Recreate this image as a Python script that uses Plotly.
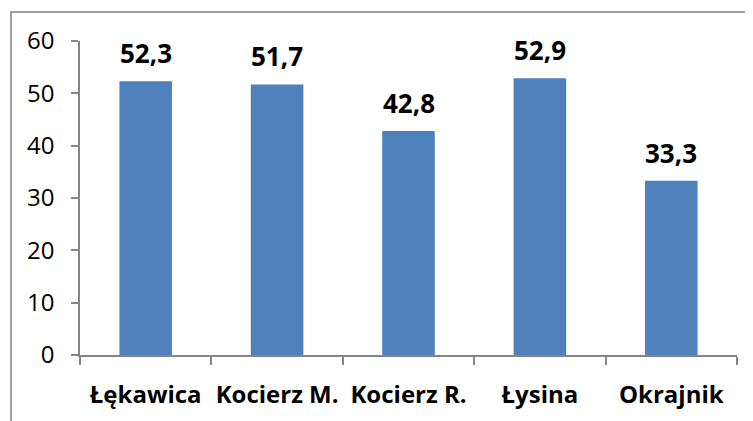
import plotly.graph_objects as go

# Values
sites = ["Łękawica", "Kocierz M.", "Kocierz R.", "Łysina", "Okrajnik"]
values = [52.3, 51.7, 42.8, 52.9, 33.3]
y_ticks = [0, 10, 20, 30, 40, 50, 60]

axis_grey = "#868686"
font_family = "Open Sans, DejaVu Sans, sans-serif"

fig = go.Figure()
fig.add_trace(go.Bar(
    x=sites, y=values,
    marker=dict(color="#4F81BD", line=dict(width=0)),
    width=0.4,
))

# value labels above the bars (comma decimal separator)
for site, v in zip(sites, values):
    fig.add_annotation(
        x=site, y=v, text=f"{v:.1f}".replace(".", ","),
        showarrow=False, yanchor="bottom", yshift=8,
        font=dict(family=font_family, size=26, color="black", weight="bold"),
    )

fig.update_xaxes(
    showline=True, linecolor=axis_grey, linewidth=1.5,
    ticks="outside", tickson="boundaries", ticklen=8, tickcolor=axis_grey, tickwidth=1.5,
    tickfont=dict(family=font_family, size=24, color="black", weight="bold"),
    tickangle=0, automargin=False,
    ticklabelstandoff=17,
)
fig.update_yaxes(
    range=[0, 60], tickvals=y_ticks, showgrid=False, zeroline=False,
    showline=True, linecolor=axis_grey, linewidth=1.5,
    ticks="outside", ticklen=7, tickcolor=axis_grey, tickwidth=1.5,
    tickfont=dict(family=font_family, size=24, color="black"),
    automargin=False,
    ticklabelstandoff=12,
)

# outer chart border (runs past the visible window like the reference)
fig.add_shape(type="rect", xref="paper", yref="paper",
              x0=-0.105, x1=1.1, y0=-0.4, y1=1.092,
              line=dict(color="#808080", width=1.5), layer="below")

fig.update_layout(
    width=745, height=413,
    margin=dict(l=72, r=16, t=33, b=66),
    plot_bgcolor="white", paper_bgcolor="white",
    showlegend=False,
    bargap=0.6,
)

fig.write_html("out.html")
